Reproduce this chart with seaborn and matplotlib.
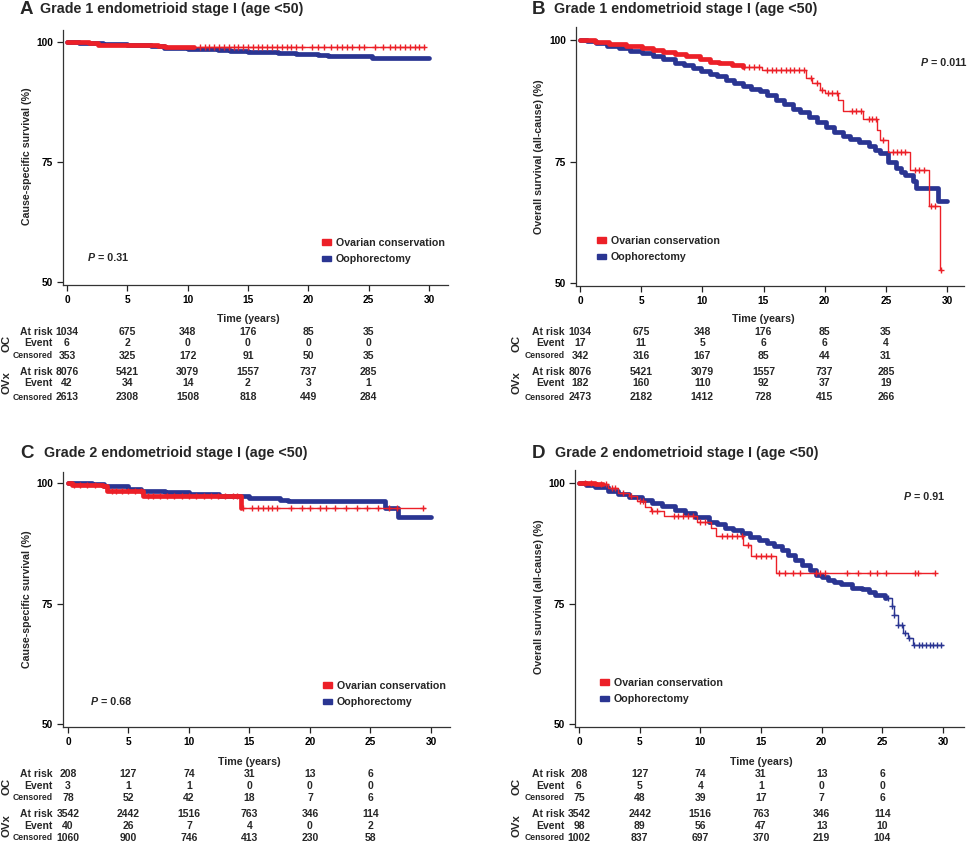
import numpy as np
import matplotlib
matplotlib.use("Agg")
import matplotlib.pyplot as plt
from matplotlib.patches import Patch
import seaborn as sns

RED = "#ec2028"
BLUE = "#2a3592"

# ---------------- data ----------------
# Panel A: cause-specific survival, grade 1
A_oc_t = [0, 1.8, 2.6, 4.9, 7.5, 8.1, 29.7]
A_oc_s = [100, 99.7, 99.4, 99.3, 99.1, 99.0, 99.0]
A_oc_cens = [11, 11.4, 11.8, 12.2, 12.6, 13, 13.4, 13.8, 14.2, 14.6, 15, 15.4, 15.8,
             16.2, 16.6, 17, 17.4, 17.8, 18.2, 18.6, 19, 19.5, 20.3, 20.8, 21.3, 21.9,
             22.4, 22.8, 23.2, 23.6, 24.2, 24.6, 25.5, 26.2, 26.8, 27.2, 27.6, 28, 28.4,
             28.8, 29.2, 29.6]
A_ov_t = [0, 1, 3, 5, 7, 8, 10, 12.5, 13.5, 15, 17.5, 19, 20.8, 21.6, 25.3, 30]
A_ov_s = [100, 99.8, 99.6, 99.4, 99.1, 98.8, 98.5, 98.3, 98.1, 97.9, 97.8, 97.6, 97.3,
          97.0, 96.7, 96.7]
A_ov_cens = []

# Panel B: overall survival, grade 1
B_oc_t = [0, 1.2, 2.4, 3.8, 5.1, 6.0, 6.8, 7.8, 8.7, 9.8, 10.6, 11.4, 12.4, 13.3,
          14.9, 18.5, 19.0, 19.6, 20.0, 21.1, 21.5, 23.1, 24.3, 24.5, 25.2, 27.0,
          28.5, 29.4, 29.6]
B_oc_s = [100, 99.6, 99.2, 98.7, 98.3, 98.0, 97.6, 97.1, 96.7, 96.1, 95.5, 95.2, 94.8,
          94.4, 93.8, 92.1, 91.2, 89.7, 89.0, 87.6, 85.4, 83.7, 81.5, 79.4, 77.0, 73.3,
          65.8, 52.6, 52.6]
B_oc_cens = [13.4, 13.8, 14.2, 14.6, 15.3, 15.7, 16.0, 16.4, 16.8, 17.2, 17.5, 17.9,
             18.3, 18.9, 19.4, 19.8, 20.3, 20.6, 21.0, 22.2, 22.6, 23.0, 23.6, 23.9,
             24.2, 24.8, 25.6, 25.9, 26.2, 26.6, 27.4, 27.7, 28.1, 28.7, 29.0, 29.5]
B_ov_t = [0, 0.6, 1.3, 2.2, 3.2, 4.1, 5.1, 6.0, 6.8, 7.8, 8.5, 9.2, 9.9, 10.6, 11.2,
          11.9, 12.6, 13.3, 14.0, 14.7, 15.3, 16.0, 16.7, 17.4, 18.0, 18.7, 19.4, 20.1,
          20.8, 21.5, 22.1, 22.8, 23.6, 24.1, 24.5, 25.2, 25.8, 26.2, 26.6, 27.2, 27.5,
          29.3, 30]
B_ov_s = [100, 99.7, 99.3, 98.8, 98.3, 97.8, 97.3, 96.7, 96.0, 95.2, 94.8, 94.3, 93.7,
          93.1, 92.5, 91.8, 91.1, 90.5, 90.0, 89.5, 88.6, 87.7, 86.8, 85.9, 85.1, 84.2,
          83.1, 82.0, 81.1, 80.2, 79.7, 79.1, 78.1, 77.4, 76.7, 75.0, 73.6, 72.9, 72.2,
          70.9, 69.6, 66.9, 66.9]
B_ov_cens = []

# Panel C: cause-specific survival, grade 2
C_oc_t = [0, 0.3, 2.9, 3.2, 6.2, 14.3, 29.5]
C_oc_s = [100, 99.5, 99.3, 98.3, 97.4, 94.8, 94.8]
C_oc_cens = [0.5, 1.0, 1.6, 2.2, 3.6, 4.0, 4.5, 5.0, 5.5, 6.0, 6.6, 7.0, 7.6, 8.2, 8.8,
             9.4, 10.0, 10.6, 11.2, 11.8, 12.4, 13.0, 13.6, 14.0, 14.5, 15.2, 15.7,
             16.1, 16.5, 16.9, 17.3, 18.4, 19.3, 20.0, 20.8, 21.3, 22.1, 23.0, 23.9,
             24.7, 25.6, 26.5, 27.2, 29.3]
C_ov_t = [0, 2, 3, 5, 6, 8, 10, 12.5, 15, 17.5, 18.2, 26.2, 27.3, 30]
C_ov_s = [100, 99.8, 99.3, 98.8, 98.4, 98.1, 97.8, 97.2, 96.9, 96.5, 96.2, 94.9, 92.9,
          92.9]
C_ov_cens = []

# Panel D: overall survival, grade 2
D_oc_t = [0, 1.3, 2.4, 3.2, 4.1, 4.8, 5.4, 5.9, 7.0, 9.7, 10.9, 11.3, 13.5, 14.2,
          16.2, 29.3]
D_oc_s = [100, 99.7, 99.0, 97.9, 97.2, 96.2, 95.0, 94.2, 93.1, 92.0, 90.7, 89.1, 87.2,
          84.8, 81.3, 81.3]
D_oc_cens = [0.5, 1.0, 1.8, 2.2, 2.7, 3.0, 3.6, 4.3, 5.0, 5.3, 6.0, 6.4, 7.8, 8.2, 8.6,
             9.0, 9.4, 10.0, 10.4, 11.8, 12.2, 12.6, 13.0, 13.4, 13.9, 14.6, 15.0, 15.4,
             15.8, 16.5, 17.0, 17.6, 18.2, 19.5, 19.9, 20.3, 22.1, 23.0, 24.0, 24.6,
             25.3, 27.7, 27.9, 29.3]
D_ov_t = [0, 0.6, 1.3, 2.4, 3.2, 4.1, 5.2, 6.0, 6.8, 7.9, 8.7, 9.6, 10.7, 11.4, 12.0,
          12.7, 13.4, 14.1, 14.8, 15.5, 16.1, 16.7, 17.2, 17.8, 18.4, 19.0, 19.5, 20.0,
          20.5, 21.0, 21.6, 22.5, 23.3, 23.9, 24.4, 25.2, 25.8, 26.0, 26.3, 26.7, 27.1,
          27.5, 30]
D_ov_s = [100, 99.6, 99.2, 98.3, 97.7, 97.1, 96.5, 95.9, 95.3, 94.5, 93.8, 93.0, 92.0,
          91.4, 90.7, 90.2, 89.6, 88.9, 88.2, 87.6, 86.9, 86.0, 85.1, 84.0, 82.9, 81.9,
          81.0, 80.4, 79.9, 79.5, 79.0, 78.2, 78.1, 77.4, 76.8, 76.1, 74.4, 72.7, 70.6,
          68.9, 67.8, 66.3, 66.3]
D_ov_cens = [25.5, 25.8, 26.0, 26.3, 26.6, 26.9, 27.2, 27.6, 28.0, 28.3, 28.6, 28.9,
             29.2, 29.5, 29.8]

# number-at-risk tables
table_times = [0, 5, 10, 15, 20, 25]
A_oc_risk = [1034, 675, 348, 176, 85, 35]
A_oc_event = [6, 2, 0, 0, 0, 0]
A_oc_censored = [353, 325, 172, 91, 50, 35]
A_ov_risk = [8076, 5421, 3079, 1557, 737, 285]
A_ov_event = [42, 34, 14, 2, 3, 1]
A_ov_censored = [2613, 2308, 1508, 818, 449, 284]

B_oc_risk = [1034, 675, 348, 176, 85, 35]
B_oc_event = [17, 11, 5, 6, 6, 4]
B_oc_censored = [342, 316, 167, 85, 44, 31]
B_ov_risk = [8076, 5421, 3079, 1557, 737, 285]
B_ov_event = [182, 160, 110, 92, 37, 19]
B_ov_censored = [2473, 2182, 1412, 728, 415, 266]

C_oc_risk = [208, 127, 74, 31, 13, 6]
C_oc_event = [3, 1, 1, 0, 0, 0]
C_oc_censored = [78, 52, 42, 18, 7, 6]
C_ov_risk = [3542, 2442, 1516, 763, 346, 114]
C_ov_event = [40, 26, 7, 4, 0, 2]
C_ov_censored = [1060, 900, 746, 413, 230, 58]

D_oc_risk = [208, 127, 74, 31, 13, 6]
D_oc_event = [6, 5, 4, 1, 0, 0]
D_oc_censored = [75, 48, 39, 17, 7, 6]
D_ov_risk = [3542, 2442, 1516, 763, 346, 114]
D_ov_event = [98, 89, 56, 47, 13, 10]
D_ov_censored = [1002, 837, 697, 370, 219, 104]

titles = ["Grade 1 endometrioid stage I (age <50)", "Grade 1 endometrioid stage I (age <50)",
          "Grade 2 endometrioid stage I (age <50)", "Grade 2 endometrioid stage I (age <50)"]
letters = ["A", "B", "C", "D"]
ylabels = ["Cause-specific survival (%)", "Overall survival (all-cause) (%)",
           "Cause-specific survival (%)", "Overall survival (all-cause) (%)"]
pvalues = ["0.31", "0.011", "0.68", "0.91"]
legend_labels = ["Ovarian conservation", "Oophorectomy"]

# ---------------- style ----------------
sns.set_style("ticks")
plt.rcParams["font.family"] = ["Liberation Sans", "DejaVu Sans"]
plt.rcParams["font.weight"] = "bold"
plt.rcParams["axes.labelweight"] = "bold"

W, H = 968, 844
fig = plt.figure(figsize=(W / 100, H / 100), dpi=100)


def fx(x):
    return x / W


def fy(y):
    return 1 - y / H


def step_value(t, s, x):
    i = np.searchsorted(t, x, side="right") - 1
    return s[max(i, 0)]


def draw_curve(ax, t, s, cens, dense_until, color):
    t = np.asarray(t, float)
    s = np.asarray(s, float)
    sns.lineplot(x=t, y=s, ax=ax, color=color, lw=1.0, drawstyle="steps-post",
                 estimator=None, sort=False)
    keep = t <= dense_until
    td = np.append(t[keep], dense_until)
    sd = np.append(s[keep], step_value(t, s, dense_until))
    sns.lineplot(x=td, y=sd, ax=ax, color=color, lw=3.4, drawstyle="steps-post",
                 estimator=None, sort=False)
    if cens:
        cy = [step_value(t, s, c) for c in cens]
        sns.scatterplot(x=cens, y=cy, ax=ax, marker="+", s=20, color=color,
                        linewidth=1.0, zorder=3)


panels = [
    dict(rect=(63, 30, 448, 285), x0=67, x30=429, y100=42, y50=282,
         oc=(A_oc_t, A_oc_s, A_oc_cens, 10.5), ov=(A_ov_t, A_ov_s, A_ov_cens, 30),
         table=(A_oc_risk, A_oc_event, A_oc_censored, A_ov_risk, A_ov_event, A_ov_censored),
         title_y=9, letter_x=20, title_x=40, ylab=(32, 156),
         leg=(322, 238), p=(88, 258), rows=(319, 332, 343, 356, 372, 383, 397), lab_x=53),
    dict(rect=(576, 27, 964, 286), x0=580, x30=947, y100=40, y50=283,
         oc=(B_oc_t, B_oc_s, B_oc_cens, 13.3), ov=(B_ov_t, B_ov_s, B_ov_cens, 30),
         table=(B_oc_risk, B_oc_event, B_oc_censored, B_ov_risk, B_ov_event, B_ov_censored),
         title_y=9, letter_x=532, title_x=554, ylab=(544, 157),
         leg=(597, 236), p=(921, 63), rows=(319, 332, 343, 356, 372, 383, 397), lab_x=565),
    dict(rect=(63, 472, 450, 727), x0=68, x30=431, y100=483, y50=724,
         oc=(C_oc_t, C_oc_s, C_oc_cens, 14.3), ov=(C_ov_t, C_ov_s, C_ov_cens, 30),
         table=(C_oc_risk, C_oc_event, C_oc_censored, C_ov_risk, C_ov_event, C_ov_censored),
         title_y=453, letter_x=20, title_x=44, ylab=(32, 599),
         leg=(323, 681), p=(91, 702), rows=(762, 774, 786, 798, 814, 826, 838), lab_x=53),
    dict(rect=(575, 470, 964, 727), x0=579, x30=943, y100=483, y50=724,
         oc=(D_oc_t, D_oc_s, D_oc_cens, 2.0), ov=(D_ov_t, D_ov_s, D_ov_cens, 25.3),
         table=(D_oc_risk, D_oc_event, D_oc_censored, D_ov_risk, D_ov_event, D_ov_censored),
         title_y=453, letter_x=532, title_x=555, ylab=(544, 597),
         leg=(600, 678), p=(904, 497), rows=(762, 774, 786, 798, 814, 826, 838), lab_x=565),
]

for k, pn in enumerate(panels):
    l, t_, r, b = pn["rect"]
    ax = fig.add_axes([fx(l), fy(b), fx(r - l), (b - t_) / H])
    xs = (pn["x30"] - pn["x0"]) / 30
    ys = (pn["y50"] - pn["y100"]) / 50
    ax.set_xlim((l - pn["x0"]) / xs, (r - pn["x0"]) / xs)
    ax.set_ylim(100 - (b - pn["y100"]) / ys, 100 + (pn["y100"] - t_) / ys)

    draw_curve(ax, *pn["ov"], BLUE)
    draw_curve(ax, *pn["oc"], RED)

    ax.set_xticks([0, 5, 10, 15, 20, 25, 30])
    ax.set_yticks([50, 75, 100])
    ax.tick_params(direction="out", length=4, width=0.9, labelsize=7.3, pad=3,
                   colors="#222222", labelcolor="black")
    for sp in ["top", "right"]:
        ax.spines[sp].set_visible(False)
    for sp in ["left", "bottom"]:
        ax.spines[sp].set_linewidth(0.9)
        ax.spines[sp].set_color("#333333")
    ax.set_xlabel("")
    ax.set_ylabel(ylabels[k], fontsize=7.7, fontweight="bold")
    yl_x, yl_y = pn["ylab"]
    ax.yaxis.set_label_coords((yl_x - l) / (r - l), (b - yl_y) / (b - t_))

    # legend
    lx, ly = pn["leg"]
    handles = [Patch(facecolor=RED, edgecolor=RED), Patch(facecolor=BLUE, edgecolor=BLUE)]
    ax.legend(handles, legend_labels, loc="upper left",
              bbox_to_anchor=((lx - l) / (r - l), (b - ly) / (b - t_)),
              frameon=False, fontsize=7.7, handlelength=0.85, handleheight=0.45,
              handletextpad=0.45, labelspacing=0.6, borderpad=0, borderaxespad=0)

    # P value
    px, py = pn["p"]
    tp = fig.text(fx(px), fy(py), "P", style="italic", fontsize=7.7, va="center",
                  fontweight="bold")
    ax.annotate(" = " + pvalues[k], xy=(1, 0.5), xycoords=tp, va="center",
                fontsize=7.7, fontweight="bold")

    # titles
    fig.text(fx(pn["letter_x"]), fy(pn["title_y"] + 1), letters[k], fontsize=13.5,
             fontweight="bold", va="center")
    fig.text(fx(pn["title_x"]), fy(pn["title_y"]), titles[k], fontsize=10.3,
             fontweight="bold", va="center")

    # risk table
    rows = pn["rows"]
    ax.annotate("Time (years)", xy=(15, fy(rows[0])), xycoords=("data", "figure fraction"),
                ha="center", va="center", fontsize=7.7, fontweight="bold",
                annotation_clip=False)
    row_names = ["At risk", "Event", "Censored", "At risk", "Event", "Censored"]
    for j, vals in enumerate(pn["table"]):
        yy = fy(rows[j + 1])
        fs = 6.2 if row_names[j] == "Censored" else 7.5
        fig.text(fx(pn["lab_x"]), yy, row_names[j], ha="right", va="center",
                 fontsize=fs, fontweight="bold")
        for tt, v in zip(table_times, vals):
            ax.annotate(str(v), xy=(tt, yy), xycoords=("data", "figure fraction"),
                        ha="center", va="center", fontsize=7.5, fontweight="bold",
                        annotation_clip=False)
    grp_x = 7 if k % 2 == 0 else 517
    fig.text(fx(grp_x), fy(rows[2]), "OC", rotation=90, ha="center", va="center",
             fontsize=8.2, fontweight="bold")
    fig.text(fx(grp_x), fy(rows[5]), "OVx", rotation=90, ha="center", va="center",
             fontsize=8.2, fontweight="bold")

fig.savefig("out.png", dpi=100)
